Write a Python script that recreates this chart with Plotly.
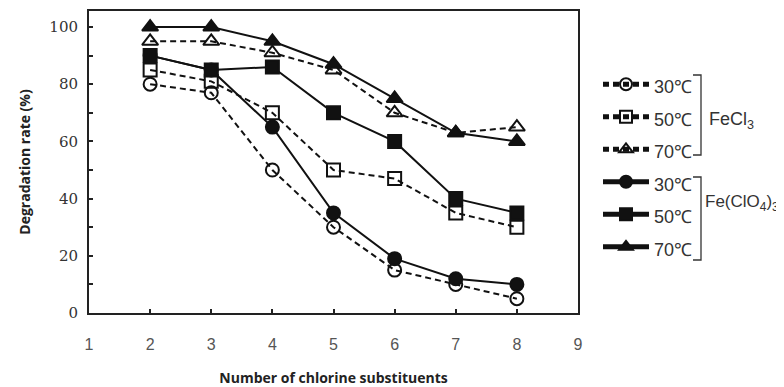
import plotly.graph_objects as go

# ---- data ----
chlorine = [2, 3, 4, 5, 6, 7, 8]
fecl3_30 = [80, 77, 50, 30, 15, 10, 5]
fecl3_50 = [85, 81, 70, 50, 47, 35, 30]
fecl3_70 = [95, 95, 91, 85, 70, 63, 65]
feclo4_30 = [90, 85, 65, 35, 19, 12, 10]
feclo4_50 = [90, 85, 86, 70, 60, 40, 35]
feclo4_70 = [100, 100, 95, 87, 75, 63, 60]
temps = ["30℃", "50℃", "70℃"]
x_ticks = [1, 2, 3, 4, 5, 6, 7, 8, 9]
y_ticks = [0, 10, 20, 30, 40, 50, 60, 70, 80, 90, 100]

# the page body adds an 8px offset; work in window pixels and compensate
OFF = 8
W, H = 784 - OFF, 387 - OFF
L, R, T, B = 89 - OFF, 578 - OFF, 11 - OFF, 313 - OFF


def px(x):
    return (x - OFF - L) / (R - L)


def py(y):
    return (B - (y - OFF)) / (B - T)


fig = go.Figure()
series = [
    (fecl3_30, "circle-open", "6px,4px", temps[0]),
    (fecl3_50, "square-open", "6px,4px", temps[1]),
    (fecl3_70, "triangle-up-open", "6px,4px", temps[2]),
    (feclo4_30, "circle", "solid", temps[0]),
    (feclo4_50, "square", "solid", temps[1]),
    (feclo4_70, "triangle-up", "solid", temps[2]),
]
for vals, sym, dash, name in series:
    fig.add_trace(go.Scatter(
        x=chlorine, y=vals, mode="lines+markers",
        name='<span style="font-size:18px">' + name + '</span>',
        line=dict(color="#111", width=2, dash=dash),
        marker=dict(symbol=sym, size=13 if "triangle" not in sym else 14,
                    color="#111", line=dict(color="#111", width=2)),
    ))

fig.update_layout(
    width=W, height=H,
    margin=dict(l=L, r=W - R, t=T, b=H - B, autoexpand=False),
    plot_bgcolor="white", paper_bgcolor="white",
    showlegend=True,
    legend=dict(x=px(598), y=py(63), xanchor="left", yanchor="top",
                font=dict(family="Liberation Sans", size=22.7, color="#333"),
                bgcolor="rgba(0,0,0,0)", itemsizing="constant",
                itemwidth=46, tracegroupgap=0),
    xaxis=dict(range=[1, 9], tickvals=x_ticks, ticks="inside", ticklen=4,
               tickwidth=2, tickcolor="#222", automargin=False,
               showline=True, linewidth=2, linecolor="#222", mirror=True,
               showgrid=False, zeroline=False, ticklabelstandoff=16,
               tickfont=dict(family="Liberation Sans", size=16, color="#555"),
               title=dict(text="<b>Number of chlorine substituents</b>",
                          font=dict(family="Open Sans", size=14, color="#222"),
                          standoff=27)),
    yaxis=dict(range=[0, 105.6], tickvals=y_ticks,
               ticktext=[str(v) if v % 20 == 0 else "" for v in y_ticks],
               ticks="inside", ticklen=4, tickwidth=2, tickcolor="#222",
               automargin=False,
               showline=True, linewidth=2, linecolor="#222", mirror=True,
               showgrid=False, zeroline=False, ticklabelstandoff=6,
               tickfont=dict(family="DejaVu Serif", size=15, color="#333"),
               title=dict(text="<b>Degradation rate (%)</b>",
                          font=dict(family="Open Sans", size=14, color="#222"),
                          standoff=15)),
)

# group brackets and labels
for top, bot in [(75, 155), (177, 260)]:
    fig.add_shape(type="path", xref="paper", yref="paper",
                  path=f"M {px(693)} {py(top)} L {px(701)} {py(top)} L {px(701)} {py(bot)} L {px(693)} {py(bot)}",
                  line=dict(color="#333", width=1.3))
fig.add_annotation(x=px(707), y=py(121), xref="paper", yref="paper",
                   text="FeCl<sub>3</sub>", showarrow=False, xanchor="left",
                   font=dict(family="Liberation Sans", size=18, color="#333"))
fig.add_annotation(x=px(703), y=py(216), xref="paper", yref="paper",
                   text="Fe(ClO<sub>4</sub>)<sub>3</sub>", showarrow=False, xanchor="left",
                   font=dict(family="Liberation Sans", size=17, color="#333"))

fig.write_html("out.html")
